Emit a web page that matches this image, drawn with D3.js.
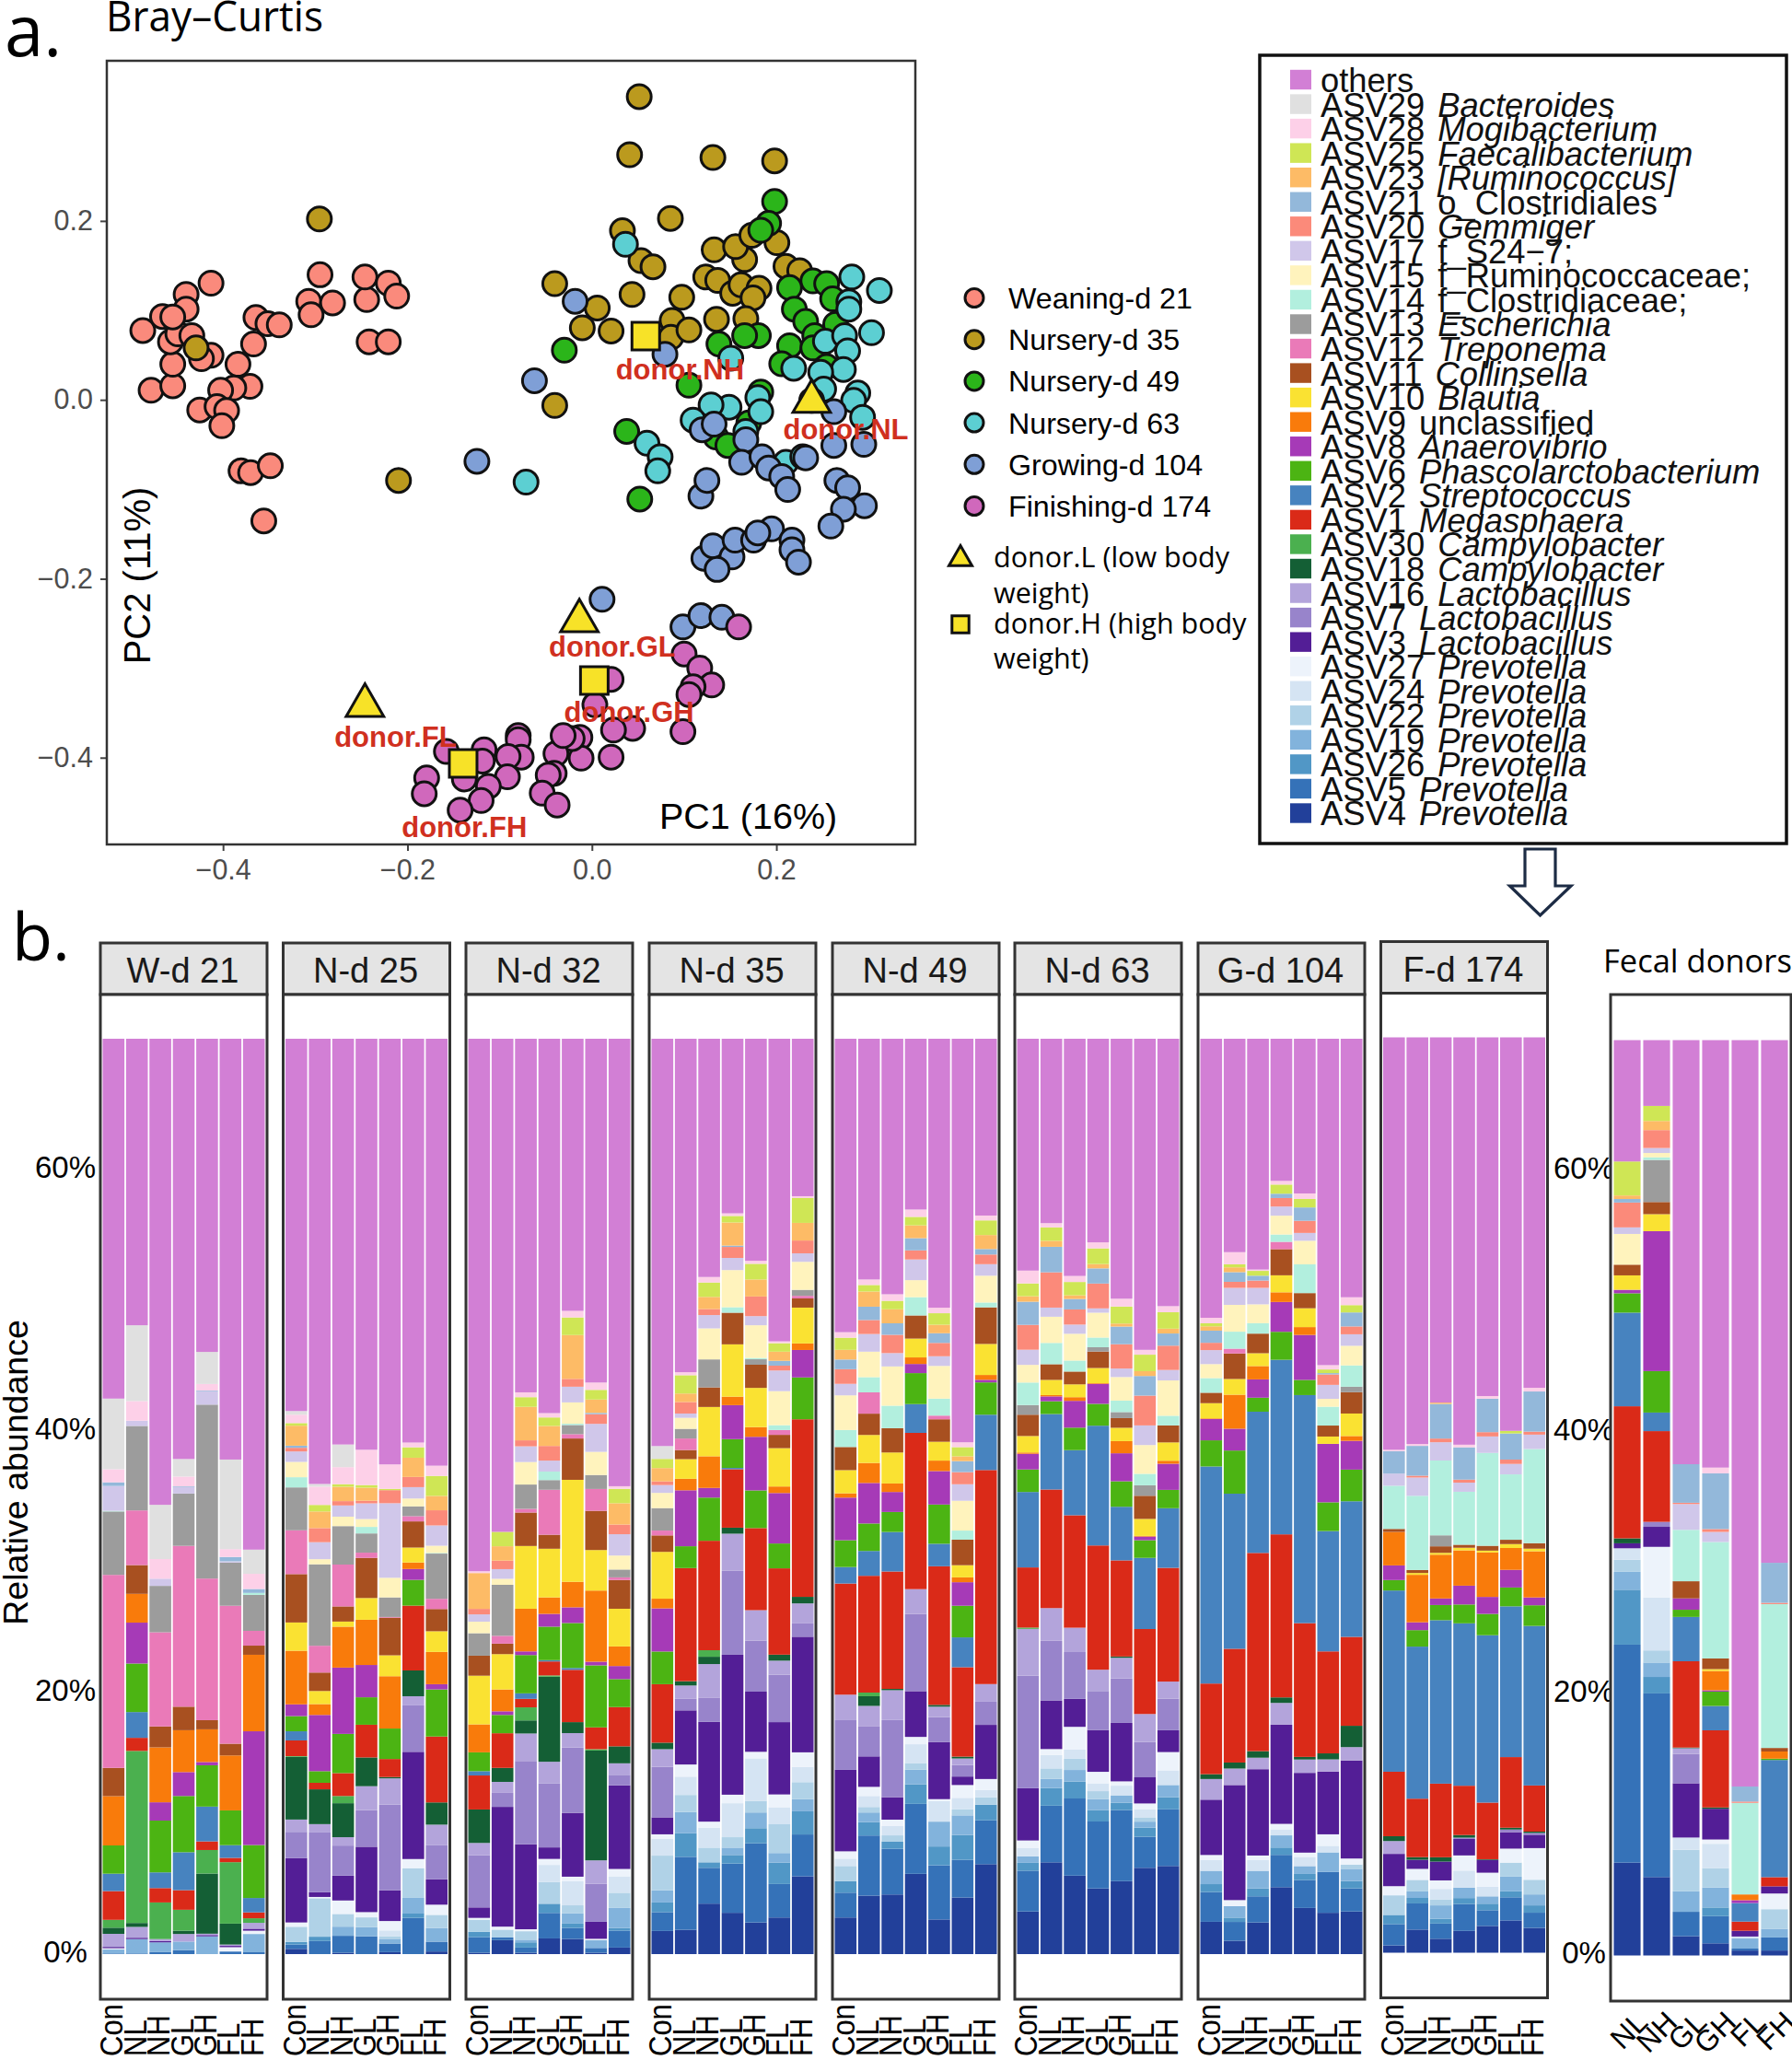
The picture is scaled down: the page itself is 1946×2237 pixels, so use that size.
<!DOCTYPE html>
<html><head><meta charset="utf-8">
<script src="https://d3js.org/d3.v7.min.js"></script>
<style>
html,body{margin:0;padding:0;background:#fff}
svg{display:block}
text{font-family:"Liberation Sans",Arial,sans-serif}
.myriad{font-family:"Open Sans",sans-serif}
</style></head><body><div id="c"></div>
<script>
// ---------- scatter data (PC1, PC2) ----------
const weaning=[[-.487,.0775],[-.478,.0107],[-.4545,.0157],[-.4545,.0397],[-.457,.0649],[-.449,.0737],[-.44,.1178],[-.44,.1014],[-.4656,.0932],[-.4545,.0926],[-.413,.1304],[-.4338,.0718],[-.413,.0498],[-.4234,.046],[-.3838,.0397],[-.3669,.0624],[-.3643,.092],[-.3513,.085],[-.339,.0838],[-.3708,.0151],[-.3883,.0132],[-.4026,.0107],[-.4253,-.0113],[-.4065,-.0076],[-.3961,-.012],[-.4013,-.029],[-.3805,-.0794],[-.3701,-.0813],[-.3487,-.0737],[-.3558,-.1354],[-.3071,.1102],[-.3045,.0951],[-.2948,.1398],[-.2812,.1083],[-.2442,.1121],[-.2461,.1373],[-.2208,.1304],[-.2117,.1159],[-.2416,.0649],[-.2208,.0649]];
const nursery35=[[.0513,.3389],[.0409,.274],[.1312,.2709],[.1981,.2671],[-.2955,.2022],[.0851,.2028],[.0331,.189],[-.0403,.1298],[.0532,.1556],[.0662,.1487],[.0435,.1178],[.1325,.1676],[.1656,.1569],[.1558,.1713],[.1734,.1839],[.2006,.1757],[.2104,.1493],[.2253,.1443],[.1234,.1373],[.1364,.1335],[.1526,.1191],[.1617,.1285],[.1812,.1247],[.1747,.114],[.0974,.1146],[.1669,.0907],[.1351,.0901],[.0058,.1027],[-.0104,.0806],[.0208,.0769],[.087,.0888],[.0857,.0699],[.1052,.0781],[-.0403,-.0063],[-.2097,-.0901],[-.4292,.058]];
const nursery49=[[.1981,.2217],[.1916,.1972],[.1831,.1896],[.2396,.1329],[.2545,.1298],[.2143,.1254],[.2195,.1014],[.2318,.0876],[.261,.1128],[.2643,.0844],[.2416,.0718],[.2143,.0605],[.2396,.058],[.1805,.0718],[.1656,.0718],[.1377,.0624],[.2058,.0403],[.1052,.0164],[.1831,.0088],[.0377,-.0353],[.0519,-.1109],[-.0299,.0554],[.1344,-.0416],[.1474,-.051],[.1701,-.0258],[.2545,.0372]];
const nursery63=[[.0364,.1739],[.2818,.1373],[.3117,.1222],[.2786,.1096],[.2786,.1014],[.2532,.0655],[.274,.0718],[.3032,.075],[.2773,.0548],[.2727,.034],[.2188,.0353],[.2481,.0309],[.2513,.012],[.2883,.0076],[.2838,-.0006],[.2935,-.0195],[.1799,.0025],[.1831,-.0132],[.1487,-.0082],[.1292,-.0057],[.1097,-.0227],[.1669,-.0353],[.0597,-.0485],[.074,-.0636],[.0714,-.0794],[-.0714,-.092],[.2104,-.0699],[.2286,-.0636],[.1506,.0466],[.2383,-.0006]];
const growing104=[[-.0182,.1102],[-.0623,.0214],[-.1247,-.0687],[.0792,.051],[.011,-.223],[.0987,-.2539],[.1182,-.2413],[.1409,-.2431],[.1195,-.0334],[.1325,-.0271],[.1669,-.0447],[.1623,-.0699],[.1844,-.0636],[.1916,-.0762],[.2058,-.0857],[.2123,-.1002],[.2318,-.0649],[.2623,-.051],[.2948,-.0498],[.2656,-.0901],[.2773,-.0983],[.2955,-.1184],[.2727,-.1222],[.2591,-.1411],[.1182,-.1077],[.1247,-.0901],[.1214,-.177],[.1312,-.1631],[.1519,-.1757],[.1357,-.1896],[.1552,-.1569],[.1753,-.1569],[.1948,-.1443],[.2169,-.1569],[.2169,-.1676],[.224,-.1814],[.2623,-.0132],[.1799,-.1487]];
const finishing174=[[.1591,-.2539],[.1,-.2841],[.1169,-.2998],[.1299,-.3187],[.1097,-.3206],[.1052,-.3294],[.0987,-.371],[.0208,-.3124],[.0032,-.3408],[.0442,-.3672],[.0234,-.3691],[.0208,-.3994],[-.013,-.3773],[-.0117,-.4006],[-.0214,-.3786],[-.039,-.3956],[-.0409,-.4176],[-.0474,-.4195],[-.0539,-.4397],[-.0377,-.4529],[-.0799,-.3754],[-.0799,-.3798],[-.0766,-.3994],[-.0909,-.3987],[-.0916,-.4214],[-.1169,-.3912],[-.1188,-.4038],[-.1123,-.4321],[-.1383,-.4239],[-.1201,-.4479],[-.1429,-.4586],[-.1578,-.3931],[-.1792,-.4227],[-.1818,-.4403],[-.0312,-.3754]];
const groupNames=["Weaning-d 21","Nursery-d 35","Nursery-d 49","Nursery-d 63","Growing-d 104","Finishing-d 174"];
const groupColors=["#fa8a7c","#bb9a1e","#2bb51a","#5ccfd2","#7f9fd6","#d068bc"];
const groupPoints=[weaning,nursery35,nursery49,nursery63,growing104,finishing174];
const donorL=[[.2383,-.0019],[-.0136,-.2471],[-.2461,-.3417]];
const donorH=[[.0584,.0712],[.0026,-.3137],[-.1396,-.4063]];
const donorLabels=["donor.NH","donor.NL","donor.GL","donor.GH","donor.FL","donor.FH"];
const donorLabelAt=[[.0955,.034],[.2753,-.0321],[.0221,-.2759],[.0403,-.3483],[-.213,-.3767],[-.1383,-.4775]];
// ---------- legend of taxa, top to bottom ----------
const taxaIds=["others","ASV29","ASV28","ASV25","ASV23","ASV21","ASV20","ASV17","ASV15","ASV14","ASV13","ASV12","ASV11","ASV10","ASV9","ASV8","ASV6","ASV2","ASV1","ASV30","ASV18","ASV16","ASV7","ASV3","ASV27","ASV24","ASV22","ASV19","ASV26","ASV5","ASV4"];
const taxaNames=["","Bacteroides","Mogibacterium","Faecalibacterium","[Ruminococcus]","o_Clostridiales","Gemmiger","f_S24−7;","f_Ruminococcaceae;","f_Clostridiaceae;","Escherichia","Treponema","Collinsella","Blautia","unclassified","Anaerovibrio","Phascolarctobacterium","Streptococcus","Megasphaera","Campylobacter","Campylobacter","Lactobacillus","Lactobacillus","Lactobacillus","Prevotella","Prevotella","Prevotella","Prevotella","Prevotella","Prevotella","Prevotella"];
const taxaColors=["#d27fd5","#e0e0e0","#fdd0e8","#cfe655","#fdbb66","#93b8da","#fb8a7a","#d0c7ea","#fff3bd","#b2efde","#9c9c9c","#ea7ab8","#a85020","#fae232","#f97b0b","#a63ab7","#4cb413","#4783bf","#da2a18","#4bb04f","#145f35","#b3a4db","#9884cb","#531e96","#edf3fb","#d5e4f3","#b0d2e7","#82b3dc","#5197c6","#3572b8","#22409a"];
const plainName=new Set(["o_Clostridiales","f_S24−7;","f_Ruminococcaceae;","f_Clostridiaceae;","unclassified"]);
// ---------- bars: each row is a sample, values bottom-to-top (ASV4 ... ASV29); "others" fills to the top ----------
const samples=["Con","NL","NH","GL","GH","FL","FH"];
const donorSamples=["NL","NH","GL","GH","FL","FH"];
const W21=[
[0,.05,0,.3,0,0,.1,.1,0,1,.47,.6,2.2,1.33,2.16,0,3.77,0,2.16,14.76,4.85,.05,0,1.9,0,.28,0,0,1,5.4],
[0,.05,0,1.1,0,0,0,.1,0,.83,.3,13.16,1,1.97,3.71,3.13,2.2,0,2.2,4.18,6.46,0,0,.4,0,0,0,0,1.5,5.8],
[0,.15,0,.75,0,0,0,.1,0,.15,0,2.8,1.1,1.2,3.96,1.4,4.2,0,1.6,7.2,3.55,0,0,.55,0,0,0,0,1.5,4.15],
[0,.3,0,.66,0,0,0,0,0,.58,.25,1.6,1.5,2.9,4.3,1.83,3.2,0,1.8,12.3,4,0,0,.5,0,.05,0,0,.75,1.34],
[0,0,0,1.36,0,0,0,.1,0,.1,4.6,1.8,.66,2.66,3.16,.25,2.5,0,.7,10.83,13.3,0,0,1.03,0,.05,0,0,.5,2.45],
[0,.2,0,0,0,0,.33,.1,0,.1,1.6,4.7,.33,.97,2.66,0,4.2,0,.9,10.55,3.3,0,0,.1,0,.33,0,0,.6,6.85],
[0,.14,0,1.4,0,0,.25,.15,0,.45,0,.35,.45,1.1,4.05,8.7,5.85,0,.7,1.13,2.75,.15,0,0,0,.3,0,0,1.16,1.85]];
const N25=[
[.4,.33,.2,0,1.16,0,.33,4.93,2,.94,4.8,.05,1.2,.7,1.16,.9,4.1,2.16,3.7,3.35,3.28,.78,1.17,.8,.28,.16,1.53,.2,.64,.28],
[0,1,.33,0,2.94,0,.1,.36,4.57,.64,2.66,0,.5,0,.89,4.3,.83,1,1.41,2.05,6.23,0,.39,1.3,1.08,0,1.27,.5,1.4,.2],
[.1,1.3,0,.7,.97,0,1.03,1.9,2.3,.64,2.6,.55,1.75,0,3,5.07,3.13,.39,1.16,3.2,2.94,0,.72,.86,.33,0,1.1,.2,1.3,1.73],
[0,1.36,0,.7,.75,0,.4,5,2.8,1.83,2.2,0,2.5,0,2.1,2.47,3.46,1.66,3.07,.4,1.47,.5,.6,1.2,.2,0,1,.2,2.7,0],
[.15,.66,0,.36,.2,.44,.72,2.35,6.56,2,.1,0,1.38,0,2.33,0,4,1.6,2.88,.05,1.5,0,1.5,5.7,1,0,0,.1,1.87,0],
[0,2.77,.33,1.2,2.27,0,.7,8.2,3.55,.7,1.97,0,4.96,0,1.97,.83,.5,1.14,2,.4,.75,0,.6,.87,.78,0,1.47,.8,.36,0],
[.2,.75,0,1.05,1,0,.78,1.94,2.6,1.58,1.7,0,5.04,0,3.6,.4,2.47,1.58,1.7,.78,3.46,.05,.55,1.55,1.16,0,1.1,1.53,.78,0]];
const N32=[
[.1,1.2,.4,0,.93,0,.14,.8,4,.93,2.56,0,2.6,.33,1.44,0,2.14,3.72,1.53,0,1.72,0,.88,.56,.42,0,2.74,0,.14,0],
[1.07,.2,0,0,.6,0,.23,9.16,1.07,.84,1.07,0,2.65,0,1.4,.28,1.67,2.7,.8,.6,3.9,0,.46,.74,.65,0,1.1,1.1,0,0],
[.1,.4,.4,.2,.65,0,.15,6.5,6.37,2.1,1,1,.65,.42,2.93,.28,3.26,4.8,2.56,.28,1.86,0,1.72,1.2,.46,0,2.56,.74,.37,0],
[1.2,1.95,.7,0,1.67,1.3,.46,.88,4.88,1.67,6.5,.1,1.07,.1,2.56,.98,1.26,3.72,1.07,3.44,.74,.65,0,.84,1.12,0,1.53,.65,.33,0],
[1.16,.84,.33,.8,.6,1.86,.33,4.88,5,1.1,.84,0,4,.14,3.44,1.2,1.95,7.8,3.16,.33,.7,.1,1.63,1.2,.6,0,3.35,1.35,.5,0],
[.1,.37,0,.6,0,0,.1,1.3,2.9,1.8,8.4,.1,1.67,0,4.74,.28,5.44,3.1,3,1.67,1.07,0,1.77,2.14,.74,.1,1.02,.74,.56,0],
[.5,1.3,.2,1.53,1.16,1.26,.56,6.4,.8,.88,1.3,0,3,0,2.14,1,1.5,2.88,2.2,.2,.6,0,1.07,1.63,.74,0,1.63,1.1,.2,0]];
const N35=[
[1.77,1.44,.74,.93,2.65,1.3,.33,1.3,3.86,1.35,.5,0,4.47,0,2.5,3.3,.74,3.58,1.26,.37,1.72,0,1.16,.6,.28,0,1.02,.7,0,.98],
[1.86,5.58,1.8,1.63,1.3,1.4,.93,4.14,.88,1.02,.33,0,8.65,0,1.67,4.28,.88,1.5,.7,.88,.74,0,.84,.33,.88,0,.65,1.4,.23,0],
[3.86,2.74,.42,0,1.12,1.53,.46,7.63,1.86,2.56,.56,.5,8.37,0,3.3,.74,2.42,3.77,1.5,0,2.14,0,2.37,1.02,.46,0,.93,1.1,.42,0],
[3.16,3.77,.65,.56,.8,2.6,.65,10.7,6.42,2.84,.46,0,4.47,.1,2.2,2.6,.65,4,2.42,0,0,.42,2.84,.93,.84,.1,1.77,.5,.2,0],
[2.42,6.05,1.16,1.2,.88,3.26,.5,4.6,3.9,2.33,0,0,6.28,0,2.88,4.1,.74,3,1.77,0,.42,.1,2.5,.7,1.5,0,1.3,1.2,.23,0],
[2.8,2.56,1.63,.74,2.2,1.3,.98,5.53,3.63,1.07,.46,0,6.6,0,1.9,3.86,.5,2.93,1.02,.37,0,.37,2.6,1.58,.37,.37,.7,.65,.14,0],
[5.95,3.2,1.77,.93,1.3,1.16,1.12,8.84,1.02,1.53,.5,0,13.58,0,3.2,2.1,.5,2.74,.7,.2,.46,0,2.14,.65,.98,0,1.35,1.9,.14,0]];
const N49=[
[2.8,1.9,.88,0,1.16,.56,.56,6.23,3.8,1.95,0,0,8.5,1.26,2.05,3.26,.33,1.77,1.77,0,0,1.3,2.65,.88,1.12,.74,.74,.93,.42,0],
[4.47,4.6,1.02,.74,.42,.84,.7,2.33,2.28,1.58,.74,.28,8.93,1.9,2.1,3.1,1.53,2.14,1.63,1.63,0,1.16,1.95,1.35,1.07,1.02,1.16,.5,.42,0],
[4.56,3.5,.56,0,.46,.74,.46,1.72,5.9,2.28,.1,0,8.98,3.02,1.53,1.53,.65,2.37,1.86,0,0,1.72,3,1.02,1.4,.88,1.07,.65,.5,0],
[6.14,5.35,1.5,1.12,.5,1.44,.56,3.5,5.9,1.9,0,0,11.95,2.2,2.37,.7,.5,1.44,1.77,0,0,1.4,1.3,1.58,.7,.93,.98,.65,.56,0],
[2.65,4.14,1.44,1.9,0,1.58,.14,4.37,1.9,.8,.14,0,10.6,1.72,3,2.56,.8,1.44,1.72,.28,0,1.3,2.5,.74,1.02,.74,.65,.88,.42,0],
[4.33,2.88,1.9,1.5,.46,.88,.98,.65,.88,.5,.14,0,6.84,2.28,2.42,1.8,.37,.93,1.95,0,0,.7,2.28,1.26,.93,.84,.37,.7,.37,0],
[6.88,3.35,1.2,0,.56,.56,.84,4.14,1.77,1.35,0,0,16.37,4.23,2.47,.2,.37,2.37,2.8,0,0,.37,2.05,.88,.74,.42,1.07,1.12,.37,0]];
const N63=[
[3.26,3.12,.6,.5,0,.65,.56,4,8.6,3.58,0,.1,4.6,5.77,1.72,1.2,.1,1.26,1.63,0,.74,1.72,1.35,1.16,1.9,1.77,.42,.98,.98,0],
[7.02,4.33,1.35,.7,.8,1.02,.46,3.72,4.56,2.5,0,0,9.07,5.77,.98,.37,.1,1.16,1.2,0,0,1.63,2,.7,2.7,1.95,.46,1.02,.33,0],
[6,5.9,1.3,.88,.88,.7,1.72,2.14,3.58,1.86,0,0,8.6,4.98,1.72,2.05,.28,.98,.98,0,0,.84,2.05,.7,1.16,.8,.28,1.02,.46,0],
[5.02,5.12,.88,.84,.6,.6,.88,3.2,2.98,1.63,0,0,9.5,9.16,1.67,1.53,.05,1.16,1.26,0,.33,.74,1.9,.33,1.9,1.16,.33,1.2,.46,0],
[5.58,5.44,.56,.56,0,.74,.33,4.47,3.4,1.58,.1,0,7.35,4.1,1.95,2.14,.93,1.02,.74,0,.46,.88,1.8,.65,1.86,1.35,.23,1.3,.6,0],
[6.6,2.37,.7,.46,.33,.6,.46,2,2.7,2.14,0,0,6.5,5.44,1.35,.28,.05,1.3,1.77,0,.8,.88,2.2,1.5,2.28,1.5,.37,1.26,.37,0],
[6.74,4.33,.93,.93,0,1.12,1.4,1.67,2.42,1.3,0,0,8.7,4.56,1.4,2,.23,1.4,1.3,0,0,.74,2.7,.8,1.86,.93,.37,1.26,.46,0]];
const G104=[
[2.47,2.28,.6,1.02,0,.84,.37,4.23,0,1.58,.37,0,6.93,16.6,2,1.63,.05,1.16,.8,0,0,1.12,1.07,1.07,.56,.93,.33,.23,.42,0],
[1.02,1.44,.33,.88,0,0,.46,8.8,0,1.26,.46,0,8.7,11.86,3.3,1.67,2.6,1.2,1.95,.37,0,1.3,2.05,1.3,.46,.74,.37,.23,.93,0],
[2.42,2,.6,1.35,0,.84,.33,6.6,0,.88,.5,0,15.16,10.8,1.07,1.4,1.02,.98,1.5,0,0,.8,1.44,1.26,.56,.37,0,.37,.1,0],
[5.12,2.47,.56,.93,0,.46,.42,7.58,0,1.67,.42,0,12.47,13.35,2.14,2.28,.74,1.3,2,.56,0,.56,1.44,.7,.65,.33,0,.7,.28,0],
[3.53,2.14,.46,.6,0,.7,.33,6.1,0,1.02,.2,0,10.23,17.44,1.16,3.44,.6,1.44,1.16,0,0,2.2,1.8,.6,.93,1.02,0,.65,.42,0],
[3.16,3.12,0,1.5,0,.5,.88,4.8,0,.93,.46,0,7.8,9.2,2.2,4.47,0,.56,.84,0,0,1.44,.6,1.07,.8,.1,0,.28,.33,0],
[3.26,1.77,.56,.93,.33,0,.46,7.5,0,1.02,1.63,0,6.8,10.37,2.42,2.2,.37,1.72,1.63,0,.42,1.63,1.5,.88,.6,1.07,0,.56,.6,0]];
const F174=[
[.56,1.63,.7,0,1.5,0,.7,2.47,0,.98,.37,0,4.93,13.86,.8,1.12,2.56,0,.23,0,0,3.3,0,.93,0,1.72,0,0,.1,0],
[1.77,2,.42,.5,.88,0,.84,.7,0,0,.2,0,4.47,11.63,1.26,.6,3.63,.14,.23,0,0,5.67,0,1.4,.14,2.28,0,0,.14,0],
[1.07,1.16,.37,1.02,.46,.8,.65,1.44,0,0,.33,0,5.63,12.5,1.16,.5,3.35,.14,.5,0,.84,5.72,0,1.4,.28,2.65,.1,0,0,0],
[1.67,2.05,.46,.8,0,1.3,1.16,1.26,.1,0,.2,0,3.77,12.42,1.44,1.44,2.7,.2,.23,0,0,4.05,0,.7,.23,2.47,0,0,.2,0],
[2.05,1.2,.5,.56,0,.74,1.07,.98,0,0,.05,0,4.33,12.8,1.63,1.3,3.4,.14,.37,0,0,7.1,0,1.26,.33,2.56,0,0,.2,0],
[2.47,1.77,.46,1.12,1.07,0,1.07,1.26,.2,0,.14,0,5.4,11.53,1.44,1.35,1.67,.3,.33,0,0,5,0,.8,.33,2,0,.2,0,0],
[1.9,1.16,.56,.84,1.12,0,2.42,1.02,.14,0,.1,0,3.53,12.2,1.58,.6,3.53,.2,.42,0,0,7.2,0,1.1,.23,3.07,0,0,.28,0]];
const Donors=[
[7.1,16.67,4.2,1.37,.93,.87,0,.38,0,0,.38,0,10.1,7.16,1.48,.27,0,1.1,.82,0,0,0,2.35,.5,1.9,.27,.27,2.6,0,0],
[6,14.04,1.26,1.1,.93,4.04,3.88,1.53,.38,0,0,0,6.94,1.42,3.17,10.7,0,1.3,.93,0,3.22,.2,.33,.38,1.37,0,.7,1.15,0,0],
[1.48,1.86,0,1.58,3.17,.93,0,4.15,2.24,.44,.05,0,6.6,3.39,.55,.87,0,0,1.31,0,0,3.93,0,1.97,.1,2.95,0,0,0,0],
[.93,2.08,.66,1.53,1.48,1.86,.33,2.35,0,0,.1,0,5.9,1.86,1.1,.1,1.48,.14,.82,0,0,8.9,0,.77,.22,4.26,0,0,.44,0],
[.38,.15,0,.77,0,.15,0,.44,0,0,0,0,.7,1.42,0,.22,.44,0,0,0,0,7,0,0,.1,1.15,0,0,0,0],
[.38,1,0,.66,1.5,0,1.2,.55,0,0,0,0,.7,8.96,.1,0,.55,0,.27,0,0,11,0,0,.1,3.06,0,0,0,0]];
const facetLabels=["W-d 21","N-d 25","N-d 32","N-d 35","N-d 49","N-d 63","G-d 104","F-d 174"];
const facetData=[W21,N25,N32,N35,N49,N63,G104,F174];
const yTicks=[0,20,40,60];
const yMax=70;

// ---------- drawing ----------
const svg=d3.select("#c").append("svg").attr("width",1946).attr("height",2237);
const stroke="#333";

// panel a
const A={l:116,r:994,t:66,b:917};
const x=d3.scaleLinear().domain([-.526,.3507]).range([A.l,A.r]);
const y=d3.scaleLinear().domain([-.497,.379]).range([A.b,A.t]);
svg.append("text").attr("class","myriad").attr("x",5).attr("y",61).attr("font-size",76).text("a.");
svg.append("text").attr("class","myriad").attr("x",115).attr("y",34).attr("font-size",45).attr("textLength",236).attr("lengthAdjust","spacingAndGlyphs").text("Bray–Curtis");
svg.append("rect").attr("x",A.l).attr("y",A.t).attr("width",A.r-A.l).attr("height",A.b-A.t).attr("fill","#fff");
const xAx=svg.append("g").attr("transform",`translate(0,${A.b})`).call(d3.axisBottom(x).tickValues([-.4,-.2,0,.2]).tickSize(7).tickPadding(9).tickFormat(d3.format(".1f")));
const yAx=svg.append("g").attr("transform",`translate(${A.l},0)`).call(d3.axisLeft(y).tickValues([-.4,-.2,0,.2]).tickSize(7).tickPadding(8).tickFormat(d3.format(".1f")));
[xAx,yAx].forEach(g=>{g.select(".domain").remove();g.selectAll("line").attr("stroke","#444").attr("stroke-width",2);g.selectAll("text").attr("font-size",30.5).attr("fill","#4d4d4d").attr("font-family","Liberation Sans")});
groupPoints.forEach((pts,i)=>{
  svg.append("g").selectAll("circle").data(pts).join("circle")
    .attr("cx",d=>x(d[0])).attr("cy",d=>y(d[1])).attr("r",13)
    .attr("fill",groupColors[i]).attr("stroke","#111").attr("stroke-width",3);
});
const sym=(type,size)=>d3.symbol().type(type).size(size)();
svg.append("g").selectAll("path").data(donorL).join("path").attr("d",sym(d3.symbolTriangle,720))
  .attr("transform",d=>`translate(${x(d[0])},${y(d[1])})`).attr("fill","#f7e228").attr("stroke","#111").attr("stroke-width",3);
svg.append("g").selectAll("path").data(donorH).join("path").attr("d",sym(d3.symbolSquare,900))
  .attr("transform",d=>`translate(${x(d[0])},${y(d[1])})`).attr("fill","#f7e228").attr("stroke","#111").attr("stroke-width",3);
svg.append("g").selectAll("text").data(donorLabels).join("text")
  .attr("x",(d,i)=>x(donorLabelAt[i][0])).attr("y",(d,i)=>y(donorLabelAt[i][1])).attr("dy",".36em")
  .attr("text-anchor","middle").attr("font-size",31).attr("font-weight","bold").attr("fill","#d0301f").text(d=>d);
svg.append("rect").attr("x",A.l).attr("y",A.t).attr("width",A.r-A.l).attr("height",A.b-A.t).attr("fill","none").attr("stroke",stroke).attr("stroke-width",2.5);
svg.append("text").attr("x",716).attr("y",900).attr("font-size",39.5).text("PC1 (16%)");
svg.append("text").attr("transform","translate(163,625) rotate(-90)").attr("text-anchor","middle").attr("font-size",40).text("PC2 (11%)");

// scatter legend
const legY=d3.scalePoint().domain(groupNames).range([323.5,549.5]);
groupNames.forEach((n,i)=>{
  svg.append("circle").attr("cx",1058).attr("cy",legY(n)).attr("r",10).attr("fill",groupColors[i]).attr("stroke","#111").attr("stroke-width",3);
  svg.append("text").attr("x",1095).attr("y",legY(n)).attr("dy",".36em").attr("font-size",32.2).text(n);
});
svg.append("path").attr("d",sym(d3.symbolTriangle,270)).attr("transform","translate(1043,607)").attr("fill","#f7e228").attr("stroke","#111").attr("stroke-width",3);
svg.append("path").attr("d",sym(d3.symbolSquare,340)).attr("transform","translate(1043,678)").attr("fill","#f7e228").attr("stroke","#111").attr("stroke-width",3);
[["donor.L (low body",605],["weight)",644],["donor.H (high body",677],["weight)",715]].forEach(d=>{
  svg.append("text").attr("class","myriad").attr("x",1079).attr("y",d[1]).attr("dy",".36em").attr("font-size",30.5).text(d[0]);
});

// taxa legend box
svg.append("rect").attr("x",1368).attr("y",60).attr("width",572).attr("height",856).attr("fill","#fff").attr("stroke","#111").attr("stroke-width",3.5);
const tY=d3.scalePoint().domain(d3.range(taxaIds.length)).range([86.5,883]);
taxaIds.forEach((id,i)=>{
  svg.append("rect").attr("x",1401).attr("y",tY(i)-10.7).attr("width",23).attr("height",21.4).attr("fill",taxaColors[i]);
  const t=svg.append("text").attr("x",1434).attr("y",tY(i)).attr("dy",".37em").attr("font-size",36.4).attr("fill","#111");
  t.append("tspan").text(id);
  if(taxaNames[i]) t.append("tspan").attr("dx",14).attr("font-style",plainName.has(taxaNames[i])?"normal":"italic").text(taxaNames[i]);
});
// arrow under the taxa legend
const ah=[[1656,922],[1689,922],[1689,962],[1706,962],[1672.5,994],[1639.5,962],[1656,962]];
svg.append("path").attr("d",d3.line()(ah)+"Z").attr("fill","#fff").attr("stroke","#1d2c45").attr("stroke-width",3.2);

// panel b
svg.append("text").attr("class","myriad").attr("x",13).attr("y",1043).attr("font-size",72).text("b.");
const facetLeft=[109,307.5,506,705,904,1102,1301,1499.5];
const facetW=181;
const facetShift=[0,0,0,0,0,0,0,-1.5];
const Y0=2122,Y70=1128;
const yB=d3.scaleLinear().domain([0,yMax]).range([Y0,Y70]);
const keys=d3.range(31);
const rowColor=k=>taxaColors[30-k];
function stackRows(rows){
  const full=rows.map(r=>{const o=r.slice();o.push(Math.max(0,yMax-d3.sum(r)));return o;});
  return d3.stack().keys(keys)(full);
}
function drawBars(g,rows,xs,names){
  stackRows(rows).forEach((layer,k)=>{
    g.append("g").selectAll("rect").data(layer).join("rect")
      .attr("x",(d,i)=>xs(names[i])).attr("width",xs.bandwidth())
      .attr("y",d=>yB(d[1])).attr("height",d=>Math.max(0,yB(d[0])-yB(d[1])))
      .attr("fill",rowColor(k));
  });
}
facetLabels.forEach((lab,i)=>{
  const L=facetLeft[i],R=L+facetW,dy=facetShift[i];
  const g=svg.append("g").attr("transform",`translate(0,${dy})`);
  g.append("rect").attr("x",L).attr("y",1024).attr("width",facetW).attr("height",56).attr("fill","#e4e4e4").attr("stroke",stroke).attr("stroke-width",3);
  g.append("text").attr("x",(L+R)/2-1).attr("y",1067).attr("text-anchor","middle").attr("font-size",38).attr("fill","#1a1a1a").text(lab);
  g.append("rect").attr("x",L).attr("y",1080).attr("width",facetW).attr("height",1091).attr("fill","#fff").attr("stroke",stroke).attr("stroke-width",3);
  const xs=d3.scaleBand().domain(samples).range([L+1.6,R-1.6]).paddingInner(.07).paddingOuter(.035);
  drawBars(g,facetData[i],xs,samples);
  const ax=g.append("g").attr("transform",`translate(0,2171)`).call(d3.axisBottom(xs).tickSize(0).tickPadding(0));
  ax.select(".domain").remove();
  ax.selectAll("text").attr("font-family","Liberation Sans").attr("font-size",31).attr("fill","#000")
    .attr("text-anchor","start").attr("dy",0).attr("y",0)
    .attr("transform",function(d){return `translate(10,${62-dy}) rotate(-90) scale(1,1.14)`;});
});
// facet y axis
const yAxB=svg.append("g").attr("transform","translate(108,-2.5)").call(d3.axisLeft(yB).tickValues(yTicks).tickSize(0).tickFormat(d=>d+"%"));
yAxB.select(".domain").remove();
yAxB.selectAll("text").attr("font-family","Liberation Sans").attr("font-size",33).attr("fill","#000").attr("text-anchor","middle").attr("x",-37);
svg.append("text").attr("transform","translate(30,1599) rotate(-90)").attr("text-anchor","middle").attr("font-size",37.5).text("Relative abundance");

// donors panel
const dL=1749,dR=1945;
const yAxD=svg.append("g").attr("transform",`translate(${dL},-1)`).call(d3.axisLeft(yB).tickValues(yTicks).tickSize(0).tickFormat(d=>d+"%"));
yAxD.select(".domain").remove();
yAxD.selectAll("text").attr("font-family","Liberation Sans").attr("font-size",33).attr("fill","#000").attr("text-anchor","middle").attr("x",-29);
svg.append("rect").attr("x",dL).attr("y",1080).attr("width",dR-dL).attr("height",1093).attr("fill","#fff").attr("stroke",stroke).attr("stroke-width",3);
const xd=d3.scaleBand().domain(donorSamples).range([dL+2.5,dR-2.5]).paddingInner(.09).paddingOuter(.03);
drawBars(svg.append("g").attr("transform","translate(0,1.5)"),Donors,xd,donorSamples);
const axD=svg.append("g").attr("transform","translate(0,2173)").call(d3.axisBottom(xd).tickSize(0));
axD.select(".domain").remove();
axD.selectAll("text").attr("font-family","Liberation Sans").attr("font-size",32).attr("fill","#000")
  .attr("text-anchor","end").attr("dy",0).attr("y",0).attr("transform","translate(24,25) rotate(-45)");
svg.append("text").attr("class","myriad").attr("x",1741).attr("y",1056).attr("font-size",34.5).text("Fecal donors");
</script></body></html>
